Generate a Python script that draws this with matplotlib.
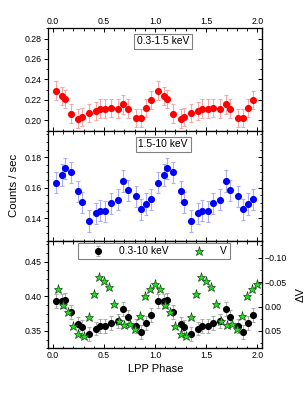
import matplotlib
matplotlib.use('Agg')
import matplotlib.pyplot as plt
from matplotlib.ticker import MultipleLocator

plt.rcParams['font.family'] = ['Liberation Sans', 'DejaVu Sans']

# phases of the X-ray bins (one cycle, repeated at +1)
phase_x = [0.026, 0.088, 0.12, 0.18, 0.25, 0.287, 0.355, 0.423, 0.462,
           0.515, 0.57, 0.64, 0.69, 0.736, 0.81, 0.863, 0.909, 0.958]

soft = [0.229, 0.224, 0.221, 0.2065, 0.2016, 0.203, 0.207, 0.209, 0.2114,
        0.2114, 0.2118, 0.2114, 0.2155, 0.2114, 0.2023, 0.2023, 0.2118, 0.220]
soft_err = [0.009] * 18

hard = [0.1633, 0.1683, 0.1727, 0.1701, 0.1576, 0.1504, 0.1381, 0.1432, 0.1449,
        0.1445, 0.1497, 0.1521, 0.1644, 0.1583, 0.1543, 0.1458, 0.1493, 0.1523]
hard_err = [0.007] * 18

total = [0.3928, 0.3928, 0.3952, 0.3775, 0.3602, 0.3553, 0.3462, 0.3535, 0.3578,
         0.3568, 0.3617, 0.364, 0.3823, 0.3707, 0.3568, 0.3487, 0.3617, 0.3732]
total_err = [0.010] * 18

# V band photometry
phase_v = [0.05, 0.10, 0.15, 0.20, 0.25, 0.30, 0.35, 0.40, 0.45, 0.50,
           0.55, 0.60, 0.65, 0.70, 0.75, 0.80, 0.85, 0.90, 0.95, 1.00]
dv = [-0.0355, -0.0035, 0.0114, 0.0408, 0.0557, 0.0598, 0.0204, -0.0253, -0.0604, -0.0524,
      -0.0408, -0.0049, 0.0292, 0.0373, 0.0359, 0.0455, 0.019, -0.0218, -0.0355, -0.0457]


def two_cycles(ph, vals):
    return ph + [p + 1 for p in ph], vals + vals


fig = plt.figure(figsize=(3.08, 3.98), dpi=100)
L, W = 0.1568, 0.6948
ax1 = fig.add_axes([L, 0.6721, W, 0.2568])
ax2 = fig.add_axes([L, 0.3945, W, 0.2776])
ax3 = fig.add_axes([L, 0.1249, W, 0.2696])

ms = 4.1
x, y = two_cycles(phase_x, soft)
_, e = two_cycles(phase_x, soft_err)
ax1.errorbar(x, y, yerr=e, fmt='o', color='#ff0000', ms=ms, ecolor='#f4a8a8',
             elinewidth=0.8, capsize=1.6, capthick=0.8)
x, y = two_cycles(phase_x, hard)
_, e = two_cycles(phase_x, hard_err)
ax2.errorbar(x, y, yerr=e, fmt='o', color='#0000ff', ms=ms, ecolor='#aeaef2',
             elinewidth=0.8, capsize=1.6, capthick=0.8)
x, y = two_cycles(phase_x, total)
_, e = two_cycles(phase_x, total_err)
h1 = ax3.errorbar(x, y, yerr=e, fmt='o', color='black', ms=ms, ecolor='#adadad',
                  elinewidth=0.8, capsize=1.6, capthick=0.8, label='0.3-10 keV')

ax3r = ax3.twinx()
xv, yv = two_cycles(phase_v, dv)
h2, = ax3r.plot(xv, yv, '*', color='#22dd22', mec='#1a4a1a', mew=0.5, ms=6.8,
                ls='none', label='V')

fs_tick = 6.3
for ax in (ax1, ax2, ax3):
    ax.set_xlim(-0.045, 2.05)
    ax.xaxis.set_major_locator(MultipleLocator(0.5))
    ax.xaxis.set_minor_locator(MultipleLocator(0.1))
    ax.tick_params(axis='x', which='both', direction='in', top=True, bottom=True,
                   labelbottom=False, labelsize=fs_tick)
    ax.tick_params(axis='y', which='both', direction='out', labelsize=fs_tick, pad=1.5)
    ax.tick_params(which='major', length=3, width=0.7)
    ax.tick_params(which='minor', length=1.8, width=0.6)
    for s in ax.spines.values():
        s.set_linewidth(0.9)

ax1.tick_params(axis='x', labeltop=True, pad=1.5)
ax3.tick_params(axis='x', labelbottom=True, pad=2)

ax1.set_ylim(0.19, 0.29)
ax1.yaxis.set_major_locator(MultipleLocator(0.02))
ax1.yaxis.set_minor_locator(MultipleLocator(0.01))
ax2.set_ylim(0.125, 0.1975)
ax2.yaxis.set_major_locator(MultipleLocator(0.02))
ax2.yaxis.set_minor_locator(MultipleLocator(0.005))
ax3.set_ylim(0.325, 0.48)
ax3.yaxis.set_major_locator(MultipleLocator(0.05))
ax3.yaxis.set_minor_locator(MultipleLocator(0.0125))

# right side ticks on the top panels
for ax in (ax1, ax2):
    r = ax.secondary_yaxis('right')
    r.yaxis.set_major_locator(ax.yaxis.get_major_locator())
    r.yaxis.set_minor_locator(ax.yaxis.get_minor_locator())
    r.tick_params(which='both', direction='in', labelright=False)
    r.tick_params(which='major', length=3, width=0.7)
    r.tick_params(which='minor', length=1.8, width=0.6)

ax3r.set_ylim(0.0854, -0.134)
ax3r.yaxis.set_major_locator(MultipleLocator(0.05))
ax3r.yaxis.set_minor_locator(MultipleLocator(0.025))
ax3r.tick_params(which='both', direction='in', labelsize=fs_tick, pad=2)
ax3r.tick_params(which='major', length=3, width=0.7)
ax3r.tick_params(which='minor', length=1.8, width=0.6)
ax3r.set_ylabel('ΔV', fontsize=8, labelpad=6)

box = dict(boxstyle='square,pad=0.25', fc='white', ec='#808080', lw=0.8)
ax1.text(0.536, 0.873, '0.3-1.5 keV', transform=ax1.transAxes, ha='center',
         va='center', fontsize=7.4, bbox=box)
ax2.text(0.537, 0.876, '1.5-10 keV', transform=ax2.transAxes, ha='center',
         va='center', fontsize=7.4, bbox=box)

leg = ax3r.legend([h1, h2], ['0.3-10 keV', 'V'], ncol=2, loc='upper left',
                  bbox_to_anchor=(0.137, 0.0, 0.712, 0.979), mode='expand',
                  borderaxespad=0, fontsize=7.4, frameon=True,
                  fancybox=False, edgecolor='#808080', handletextpad=0.3,
                  borderpad=0.3, handlelength=3.4, framealpha=1)
leg.get_frame().set_linewidth(0.8)

ax2.set_ylabel('Counts / sec', fontsize=8.2, labelpad=4)
ax3.set_xlabel('LPP Phase', fontsize=8, labelpad=3)

fig.savefig('out.png', dpi=100)
